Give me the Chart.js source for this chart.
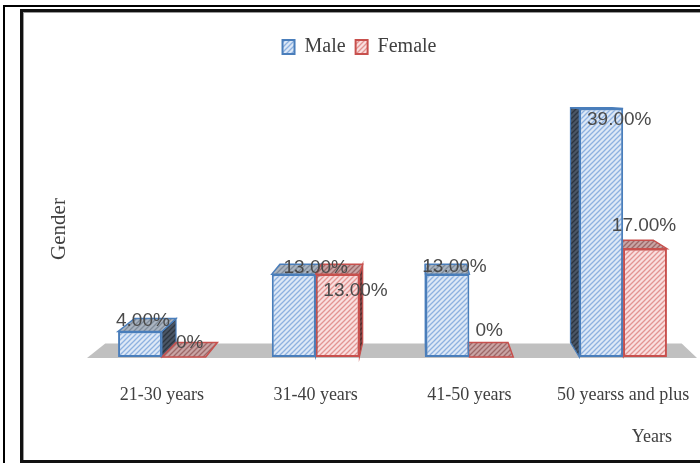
<!DOCTYPE html>
<html>
<head>
<meta charset="utf-8">
<script src="https://cdn.jsdelivr.net/npm/chart.js@4.4.1/dist/chart.umd.min.js"></script>
<style>
  html, body { margin: 0; padding: 0; background: #ffffff; }
  canvas { display: block; }
</style>
</head>
<body>
<canvas id="c" width="700" height="463"></canvas>
<script>
// Age groups and the share of respondents (%) in each, by gender
const categories = ['21-30 years', '31-40 years', '41-50 years', '50 yearss and plus'];
const maleValues = [4, 13, 13, 39];
const femaleValues = [0, 13, 0, 17];
const seriesNames = ['Male', 'Female'];
const xAxisTitle = 'Years';
const yAxisTitle = 'Gender';

// Small nudges for the value labels, relative to the top-centre of each bar
const labelNudge = [
  [[3, -11], [22, -6], [7, -7], [18, 11]],
  [[6, -14], [18, 17], [-2, -26], [-1, -23]]
];

const canvas = document.getElementById('c');
const ctx = canvas.getContext('2d');

// Diagonal hatch fill
function hatch(base, line, size, lw) {
  size = size || 5; lw = lw || 1.3;
  const t = document.createElement('canvas');
  t.width = t.height = size;
  const g = t.getContext('2d');
  g.fillStyle = base; g.fillRect(0, 0, size, size);
  g.strokeStyle = line; g.lineWidth = lw;
  g.beginPath();
  g.moveTo(0, size); g.lineTo(size, 0);
  g.moveTo(-1, 1); g.lineTo(1, -1);
  g.moveTo(size - 1, size + 1); g.lineTo(size + 1, size - 1);
  g.stroke();
  return ctx.createPattern(t, 'repeat');
}

const palette = [
  { border: '#4a7ebb', front: hatch('#dde8f6', '#8db1e0'), top: hatch('#aab4c0', '#7e8a99'), side: hatch('#4a5564', '#2c3540') },
  { border: '#c8504d', front: hatch('#f9dfdf', '#e39492'), top: hatch('#c9a4a4', '#9c6868'), side: hatch('#7a4444', '#552c2c') }
];

// Perspective used for the depth faces
const VP = { x: 419, y: 95 };
const DEPTH = 0.055;
function back(x, y) {
  return { x: x - DEPTH * (x - VP.x), y: y - DEPTH * (y - VP.y) };
}
function poly(c, pts, fill, stroke, lw) {
  c.beginPath();
  c.moveTo(pts[0].x, pts[0].y);
  for (let i = 1; i < pts.length; i++) c.lineTo(pts[i].x, pts[i].y);
  c.closePath();
  c.fillStyle = fill; c.fill();
  if (stroke) { c.strokeStyle = stroke; c.lineWidth = lw || 1.5; c.stroke(); }
}

const framePlugin = {
  id: 'frame',
  beforeDraw(chart) {
    const c = chart.ctx;
    c.save();
    c.fillStyle = '#ffffff';
    c.fillRect(0, 0, chart.width, chart.height);
    c.fillStyle = '#000000';
    c.fillRect(3, 5, 2, chart.height - 5);
    c.fillRect(3, 5, chart.width - 3, 2);
    c.fillStyle = '#111111';
    c.fillRect(20, 9, chart.width - 20, 3);
    c.fillRect(20, 9, 3, chart.height - 9);
    c.fillRect(20, chart.height - 3, chart.width - 20, 3);
    c.fillStyle = '#9a9a9a';
    c.fillRect(23, 12, chart.width - 23, 1);
    c.fillRect(23, 12, 1, chart.height - 15);
    c.restore();
  }
};

const depthPlugin = {
  id: 'depth',
  beforeDatasetsDraw(chart) {
    const c = chart.ctx;
    const a = chart.chartArea;
    c.save();
    // floor
    const fl = a.left + 2, fr = a.right - 3, fy = a.bottom + 1;
    poly(c, [{ x: fl, y: fy }, { x: fr, y: fy }, back(fr, fy), back(fl, fy)], '#c0c0c0');
    const bars = [];
    chart.data.datasets.forEach((ds, di) => {
      chart.getDatasetMeta(di).data.forEach((el) => {
        const p = el.getProps(['x', 'y', 'base', 'width'], true);
        bars.push({ di, x1: p.x - p.width / 2, x2: p.x + p.width / 2, top: Math.min(p.y, p.base), bot: p.base });
      });
    });
    // side faces
    bars.forEach((b) => {
      if (b.bot - b.top < 0.5) return;
      const col = palette[b.di];
      let sx = null;
      if (b.x2 < VP.x) sx = b.x2; else if (b.x1 > VP.x) sx = b.x1;
      if (sx === null) return;
      poly(c, [{ x: sx, y: b.top }, { x: sx, y: b.bot }, back(sx, b.bot), back(sx, b.top)], col.side, col.border, 1.2);
    });
    // top faces
    bars.forEach((b) => {
      if (b.top <= VP.y) return;
      const col = palette[b.di];
      poly(c, [{ x: b.x1, y: b.top }, { x: b.x2, y: b.top }, back(b.x2, b.top), back(b.x1, b.top)], col.top, col.border, 1.5);
    });
    c.restore();
  }
};

const labelPlugin = {
  id: 'valueLabels',
  afterDatasetsDraw(chart) {
    const c = chart.ctx;
    c.save();
    c.font = '19px "Liberation Sans", Arial, sans-serif';
    c.fillStyle = '#4a4a4a';
    c.textAlign = 'center';
    c.textBaseline = 'middle';
    chart.data.datasets.forEach((ds, di) => {
      chart.getDatasetMeta(di).data.forEach((el, i) => {
        const v = ds.data[i];
        const txt = v === 0 ? '0%' : v.toFixed(2) + '%';
        const p = el.getProps(['x', 'y', 'base'], true);
        const n = labelNudge[di][i];
        c.fillText(txt, p.x + n[0], Math.min(p.y, p.base) + n[1]);
      });
    });
    c.restore();
  }
};

const axisTitlePlugin = {
  id: 'axisTitles',
  afterDraw(chart) {
    const c = chart.ctx;
    c.save();
    c.fillStyle = '#404040';
    c.textBaseline = 'middle';
    c.font = '18px "Liberation Serif", serif';
    c.textAlign = 'right';
    c.fillText(xAxisTitle, 672, 437);
    c.translate(59, 229);
    c.rotate(-Math.PI / 2);
    c.textAlign = 'center';
    c.font = '21px "Liberation Serif", serif';
    c.fillText(yAxisTitle, 0, 0);
    c.restore();
  }
};

new Chart(canvas, {
  type: 'bar',
  data: {
    labels: categories,
    datasets: [
      { label: seriesNames[0], data: maleValues, backgroundColor: palette[0].front, borderColor: palette[0].border, borderWidth: 2, borderSkipped: false },
      { label: seriesNames[1], data: femaleValues, backgroundColor: palette[1].front, borderColor: palette[1].border, borderWidth: 2, borderSkipped: false }
    ]
  },
  options: {
    responsive: false,
    animation: false,
    devicePixelRatio: 1,
    categoryPercentage: 0.57,
    barPercentage: 1,
    layout: { padding: { left: 19, right: 0, top: 27, bottom: 3 } },
    plugins: {
      legend: {
        position: 'top',
        labels: {
          boxWidth: 12,
          boxHeight: 14,
          padding: 10,
          color: '#404040',
          font: { family: '"Liberation Serif", serif', size: 20 }
        }
      },
      tooltip: { enabled: false }
    },
    scales: {
      x: {
        grid: { display: false, drawTicks: true, tickLength: 20 },
        border: { display: false },
        ticks: {
          padding: 7,
          autoSkip: false,
          maxRotation: 0,
          color: '#404040',
          font: { family: '"Liberation Serif", serif', size: 18 }
        },
        afterFit(scale) { scale.height = 103; }
      },
      y: {
        min: 0,
        max: 45.5,
        grid: { display: false, drawTicks: false },
        border: { display: false },
        ticks: { display: false },
        afterFit(scale) { scale.width = 66; }
      }
    }
  },
  plugins: [framePlugin, depthPlugin, labelPlugin, axisTitlePlugin]
});
</script>
</body>
</html>
